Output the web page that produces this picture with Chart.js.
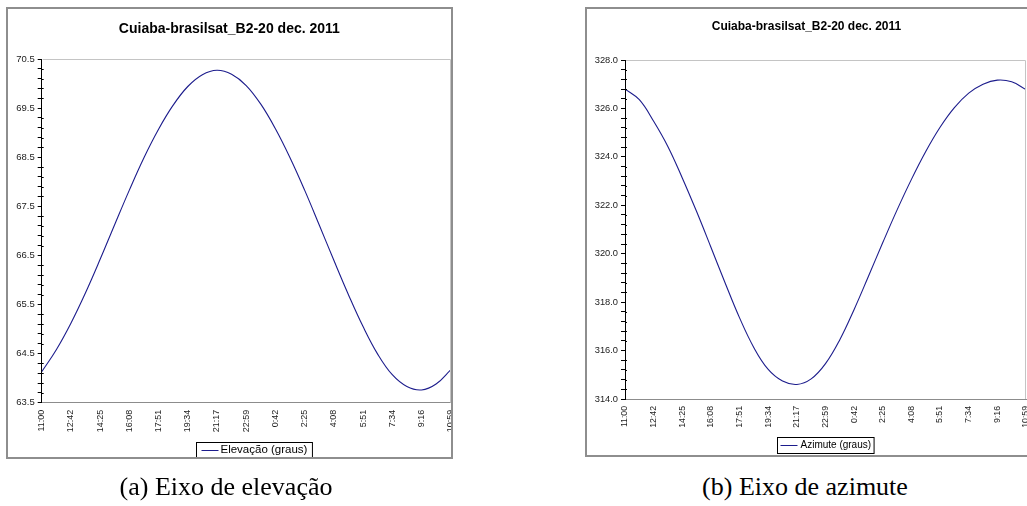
<!DOCTYPE html>
<html>
<head>
<meta charset="utf-8">
<script src="https://cdn.jsdelivr.net/npm/chart.js@4.4.1/dist/chart.umd.min.js"></script>
<style>
  html, body { margin: 0; padding: 0; background: #fff; }
  body { width: 1027px; height: 506px; position: relative; overflow: hidden; }
  canvas { position: absolute; }
  .frame { position: absolute; box-sizing: border-box; border: 2px solid #8e8e8e; pointer-events: none; }
  .caption {
    position: absolute; width: 320px; height: 30px; line-height: 30px; text-align: center;
    font-family: 'Liberation Serif', 'Times New Roman', serif; font-size: 26px; color: #000;
  }
</style>
</head>
<body>
<canvas id="elevChart" width="470" height="449" style="left:8px;top:9px"></canvas>
<div class="frame" style="left:6px;top:7px;width:447px;height:452px"></div>
<canvas id="azChart" width="460" height="447" style="left:587px;top:9px"></canvas>
<div class="frame" style="left:585px;top:7px;width:500px;height:450px"></div>
<div class="caption" style="left:66px;top:472px">(a) Eixo de elevação</div>
<div class="caption" style="left:645px;top:472px">(b) Eixo de azimute</div>

<script>
// Etiquetas do eixo das categorias (horas)
const timeLabels = ['11:00', '12:42', '14:25', '16:08', '17:51', '19:34', '21:17', '22:59',
                    '0:42', '2:25', '4:08', '5:51', '7:34', '9:16', '10:59'];

// Posicao de cada amostra, em unidades de etiqueta (meia etiqueta entre amostras)
const samplePos = [0, 0.5, 1, 1.5, 2, 2.5, 3, 3.5, 4, 4.5, 5, 5.5, 6, 6.5, 7,
                   7.5, 8, 8.5, 9, 9.5, 10, 10.5, 11, 11.5, 12, 12.5, 13, 13.5, 14];

// Elevacao (graus)
const elevacao = [64.13, 64.58, 65.12, 65.74, 66.42, 67.13, 67.83, 68.49, 69.07, 69.56,
                  69.94, 70.18, 70.27, 70.19, 69.96, 69.58, 69.08, 68.49, 67.83, 67.12,
                  66.40, 65.70, 65.05, 64.49, 64.07, 63.83, 63.76, 63.88, 64.17];

// Azimute (graus)
const azimute = [326.80, 326.36, 325.47, 324.42, 323.13, 321.74, 320.27, 318.78, 317.35, 316.12,
                 315.22, 314.74, 314.60, 314.83, 315.46, 316.45, 317.70, 319.07, 320.46, 321.81,
                 323.07, 324.22, 325.22, 326.03, 326.63, 327.00, 327.17, 327.10, 326.78];

const FONT = "'Liberation Sans', Arial, sans-serif";
const LINE_COLOR = '#1c1c8c';

// Borda cinza da area de plotagem, tracos menores cruzando o eixo e caixa da legenda
const excelPlugin = {
    id: 'excelLook',
    afterDraw(chart, args, opts) {
        const { ctx, chartArea: a } = chart;
        ctx.save();
        ctx.lineWidth = 1;
        ctx.strokeStyle = '#c4c4c4';
        ctx.beginPath();
        ctx.moveTo(a.left + 1, Math.round(a.top) + 0.5);
        ctx.lineTo(Math.round(a.right) - 0.5, Math.round(a.top) + 0.5);
        ctx.lineTo(Math.round(a.right) - 0.5, a.bottom);
        ctx.stroke();

        // tracos menores: atravessam o eixo para dentro
        const ys = chart.scales.y;
        ctx.strokeStyle = '#000';
        ctx.beginPath();
        ys.ticks.forEach((t) => {
            if (t.label) return;
            const py = Math.round(ys.getPixelForValue(t.value)) + 0.5;
            ctx.moveTo(a.left, py);
            ctx.lineTo(a.left + 2, py);
        });
        ctx.stroke();

        // legenda
        const ds = chart.data.datasets[0];
        ctx.font = opts.fontSize + 'px ' + FONT;
        const tw = ctx.measureText(ds.label).width;
        const w = opts.pad + opts.lineLen + opts.gap + tw + opts.pad;
        const x0 = Math.round(opts.cx - w / 2) + 0.5;
        const y0 = Math.round(opts.cy - opts.height / 2) + 0.5;
        ctx.fillStyle = '#fff';
        ctx.fillRect(x0, y0, w, opts.height);
        ctx.strokeStyle = '#000';
        ctx.strokeRect(x0, y0, w, opts.height);
        ctx.strokeStyle = ds.borderColor;
        ctx.beginPath();
        ctx.moveTo(x0 + opts.pad, Math.round(opts.cy) + 0.5);
        ctx.lineTo(x0 + opts.pad + opts.lineLen, Math.round(opts.cy) + 0.5);
        ctx.stroke();
        ctx.fillStyle = '#000';
        ctx.textBaseline = 'middle';
        ctx.fillText(ds.label, x0 + opts.pad + opts.lineLen + opts.gap, opts.cy + 0.5);
        ctx.restore();
    }
};

function makeChart(id, cfg) {
    const nSteps = Math.round((cfg.yMax - cfg.yMin) / cfg.minorStep);
    const perMajor = Math.round(cfg.majorStep / cfg.minorStep);

    return new Chart(document.getElementById(id), {
        type: 'line',
        data: {
            datasets: [{
                label: cfg.label,
                data: samplePos.map((x, i) => ({ x: x, y: cfg.values[i] })),
                borderColor: LINE_COLOR,
                borderWidth: 1.1,
                pointRadius: 0,
                tension: 0.4,
                fill: false
            }]
        },
        options: {
            responsive: false,
            animation: false,
            layout: { padding: cfg.padding },
            plugins: {
                legend: { display: false },
                tooltip: { enabled: false },
                title: {
                    display: true,
                    text: 'Cuiaba-brasilsat_B2-20 dec. 2011',
                    color: '#000',
                    font: { family: FONT, size: cfg.titleSize, weight: 'bold' },
                    padding: cfg.titlePadding
                },
                excelLook: cfg.legend
            },
            scales: {
                x: {
                    type: 'linear',
                    min: 0,
                    max: timeLabels.length - 1,
                    afterFit: (scale) => { scale.height = cfg.xAxisHeight; },
                    afterBuildTicks: (scale) => {
                        scale.ticks = timeLabels.map((_, i) => ({ value: i }));
                    },
                    ticks: {
                        autoSkip: false,
                        minRotation: 90,
                        maxRotation: 90,
                        padding: 7,
                        color: '#222',
                        font: { family: FONT, size: cfg.xFontSize },
                        callback: (v, i) => timeLabels[i]
                    },
                    grid: { display: true, drawOnChartArea: false, drawTicks: false },
                    border: { color: '#8c8c8c', width: 1 }
                },
                y: {
                    min: cfg.yMin,
                    max: cfg.yMax,
                    afterFit: (scale) => { scale.width = cfg.yAxisWidth; },
                    afterBuildTicks: (scale) => {
                        const ticks = [];
                        for (let i = 0; i <= nSteps; i++) {
                            ticks.push({ value: cfg.yMin + i * cfg.minorStep });
                        }
                        scale.ticks = ticks;
                    },
                    ticks: {
                        autoSkip: false,
                        padding: 3,
                        color: '#222',
                        font: { family: FONT, size: cfg.yFontSize },
                        callback: (v, i) => (i % perMajor === 0 ? Number(v).toFixed(1) : '')
                    },
                    grid: { drawOnChartArea: false, drawTicks: true, tickLength: 4, color: '#000', lineWidth: 1 },
                    border: { color: '#000', width: 1 }
                }
            }
        },
        plugins: [excelPlugin]
    });
}

makeChart('elevChart', {
    label: 'Elevação (graus)',
    values: elevacao,
    yMin: 63.5, yMax: 70.5, minorStep: 0.2, majorStep: 1.0,
    titleSize: 14,
    titlePadding: { top: 11.6, bottom: 21.6 },
    padding: { left: 0, right: 27.3, top: 0, bottom: 15.3 },
    yAxisWidth: 33.7,
    xAxisHeight: 40,
    xFontSize: 9,
    yFontSize: 9.5,
    legend: { cx: 246, cy: 440.5, height: 15, fontSize: 11.5, lineLen: 17, pad: 5, gap: 2 }
});

makeChart('azChart', {
    label: 'Azimute (graus)',
    values: azimute,
    yMin: 314, yMax: 328, minorStep: 0.4, majorStep: 2.0,
    titleSize: 12,
    titlePadding: { top: 10.8, bottom: 25.8 },
    padding: { left: 0, right: 21, top: 0, bottom: 17 },
    yAxisWidth: 38,
    xAxisHeight: 40,
    xFontSize: 8.7,
    yFontSize: 9.3,
    legend: { cx: 238, cy: 436, height: 16, fontSize: 10, lineLen: 17, pad: 3, gap: 3 }
});
</script>
</body>
</html>
